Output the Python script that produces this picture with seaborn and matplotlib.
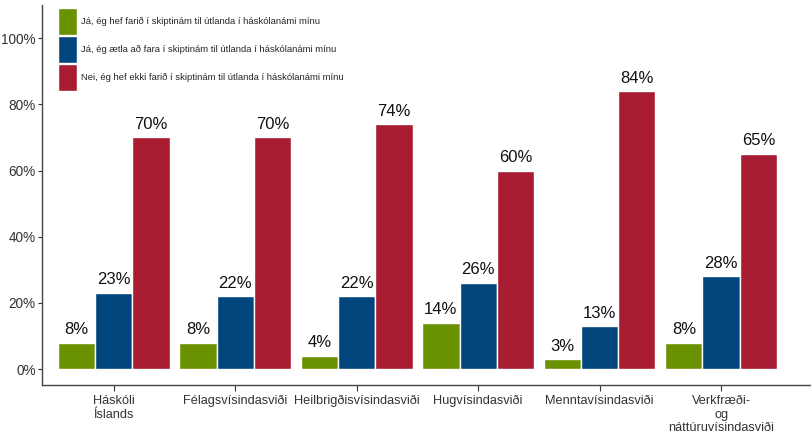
import matplotlib.pyplot as plt
from matplotlib.patches import Patch
import pandas as pd
import seaborn as sns

sns.set_style("white")
plt.rcParams['font.family'] = ['Liberation Sans', 'DejaVu Sans']

# faculties (x categories)
svid = ["Háskóli\nÍslands", "Félagsvísindasviði", "Heilbrigðisvísindasviði",
        "Hugvísindasviði", "Menntavísindasviði", "Verkfræði-\nog\nnáttúruvísindasviði"]

svor = ["Já, ég hef farið í skiptinám til útlanda í háskólanámi mínu",
        "Já, ég ætla að fara í skiptinám til útlanda í háskólanámi mínu",
        "Nei, ég hef ekki farið í skiptinám til útlanda í háskólanámi mínu"]

farid = [8, 8, 4, 14, 3, 8]
aetla = [23, 22, 22, 26, 13, 28]
ekki = [70, 70, 74, 60, 84, 65]

litir = ["#6a9100", "#00457c", "#a81c32"]

rows = []
for vals, s in zip([farid, aetla, ekki], svor):
    for sv, v in zip(svid, vals):
        rows.append({"svid": sv, "svar": s, "hlutfall": v / 100})
data = pd.DataFrame(rows)

fig = plt.figure(figsize=(8.11, 4.45), dpi=100)
ax = fig.add_axes([42 / 811, 1 - 385 / 445, 1 - 42 / 811, 380 / 445])

sns.barplot(data=data, x="svid", y="hlutfall", hue="svar", order=svid, hue_order=svor,
            palette=litir, width=0.92, saturation=1, ax=ax, legend=False, errorbar=None)

for cont in ax.containers:
    labels = [f"{int(round(b.get_height() * 100))}%" for b in cont]
    ax.bar_label(cont, labels=labels, padding=4, fontsize=12, color="#111111")

ax.set_xlim(-0.59, 5.74)
ax.set_ylim(-0.048, 1.10)
ax.set_yticks([0, 0.2, 0.4, 0.6, 0.8, 1.0])
ax.set_yticklabels(["0%", "20%", "40%", "60%", "80%", "100%"])
ax.set_xlabel("")
ax.set_ylabel("")
ax.tick_params(axis="y", labelsize=9.8, colors="#333333", length=3, width=0.8,
               direction="out", left=True, pad=1.5)
ax.tick_params(axis="x", labelsize=9.2, colors="#333333", length=4, width=0.8,
               direction="out", bottom=True, pad=3)
sns.despine(ax=ax, top=True, right=True)
for sp in ["left", "bottom"]:
    ax.spines[sp].set_color("#444444")
    ax.spines[sp].set_linewidth(1.0)

handles = [Patch(facecolor=c, edgecolor="white", linewidth=1) for c in litir]
ax.legend(handles, svor, loc="upper left", bbox_to_anchor=(0.012, 1.01), frameon=False,
          fontsize=6.8, handlelength=2.0, handleheight=4.0, labelspacing=0.15,
          handletextpad=0.4, borderaxespad=0.3)

plt.savefig("out.png", dpi=100)
